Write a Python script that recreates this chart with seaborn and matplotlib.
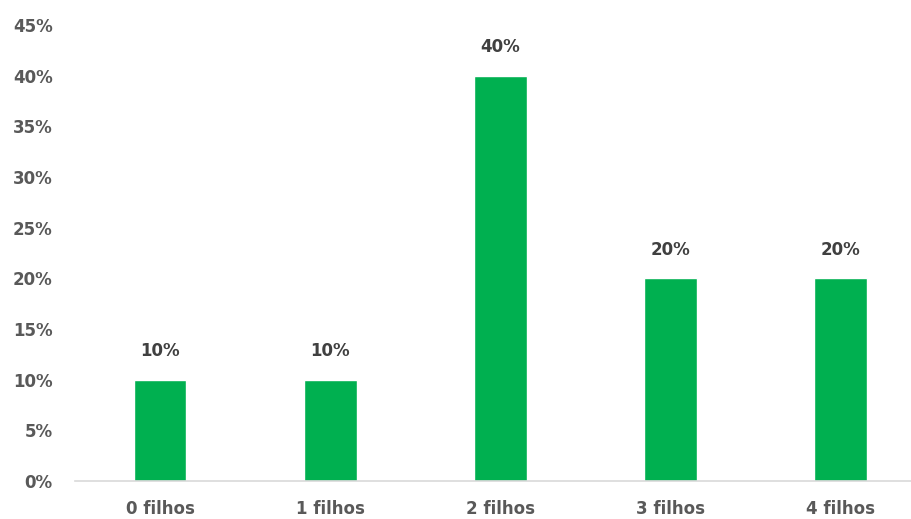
import matplotlib
matplotlib.use("Agg")
import matplotlib.pyplot as plt
import seaborn as sns
import pandas as pd
from matplotlib.ticker import MultipleLocator, FuncFormatter

categorias = ["0 filhos", "1 filhos", "2 filhos", "3 filhos", "4 filhos"]
percentuais = [0.10, 0.10, 0.40, 0.20, 0.20]
rotulos = ["10%", "10%", "40%", "20%", "20%"]

sns.set_theme(style="white")
plt.rcParams["font.family"] = ["DejaVu Sans"]

df = pd.DataFrame({"categoria": categorias, "percentual": percentuais})

fig = plt.figure(figsize=(9.12, 5.19), dpi=100)
ax = fig.add_axes([0.0822, 0.0732, 0.933, 0.8786])

sns.barplot(data=df, x="categoria", y="percentual", color="#00B050",
            saturation=1, width=0.31, ax=ax)

ax.set_ylim(0, 0.45)
ax.set_xlim(-0.5, 4.5)
ax.yaxis.set_major_locator(MultipleLocator(0.05))
ax.yaxis.set_major_formatter(FuncFormatter(lambda v, _: f"{v*100:.0f}%"))

texto = "#595959"
ax.tick_params(axis="y", length=0, pad=16, labelsize=12, labelcolor=texto)
ax.tick_params(axis="x", length=0, pad=14, labelsize=12, labelcolor=texto)
for lbl in ax.get_xticklabels() + ax.get_yticklabels():
    lbl.set_fontweight("bold")

ax.set_xlabel("")
ax.set_ylabel("")

for s in ["top", "right", "left"]:
    ax.spines[s].set_visible(False)
ax.spines["bottom"].set_color("#D9D9D9")
ax.spines["bottom"].set_linewidth(1.2)

for i, (v, r) in enumerate(zip(percentuais, rotulos)):
    ax.annotate(r, (i, v), xytext=(0, 14), textcoords="offset points",
                ha="center", va="bottom", fontsize=12, fontweight="bold",
                color="#404040")

fig.savefig("out.png", dpi=100)
